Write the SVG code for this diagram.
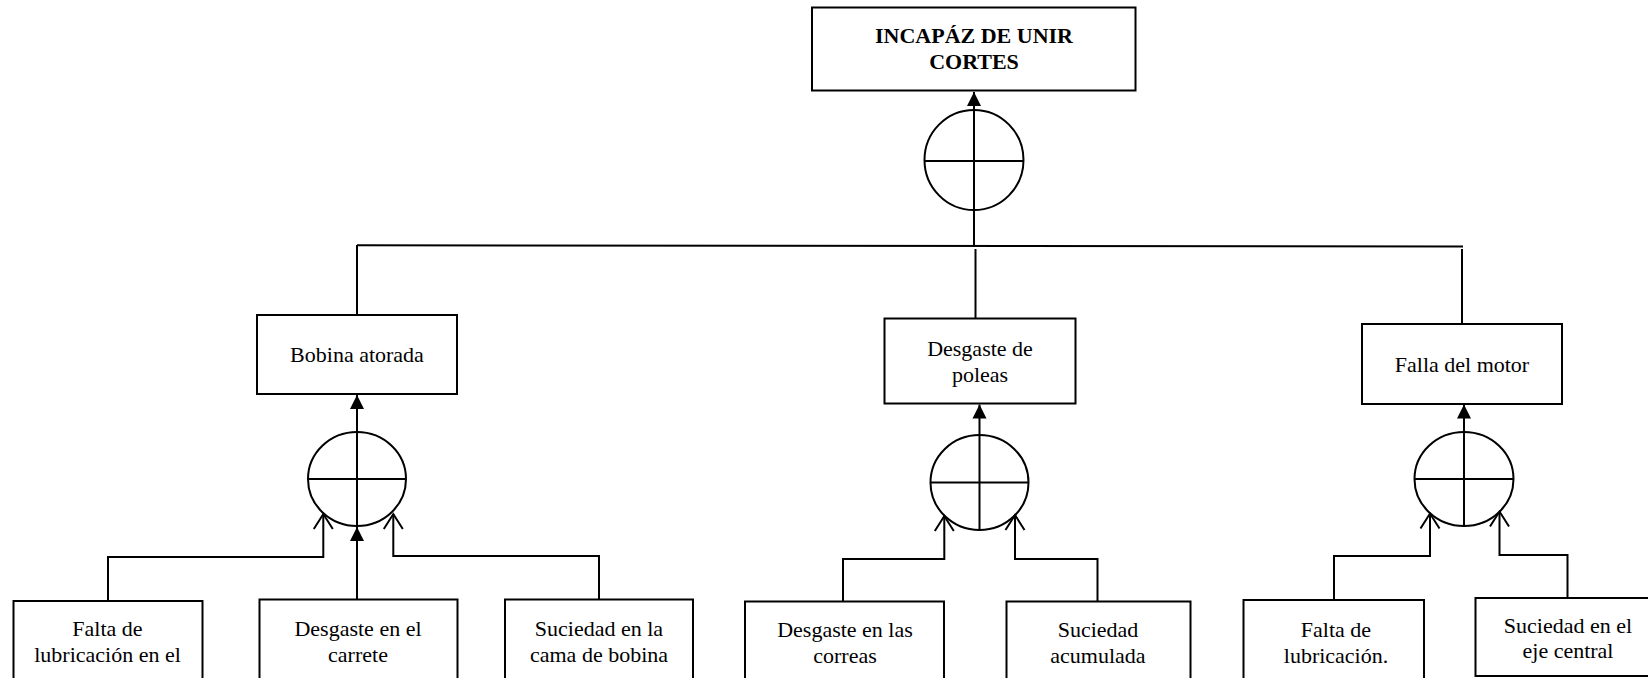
<svg xmlns="http://www.w3.org/2000/svg" width="1648" height="678" viewBox="0 0 1648 678">
<style>
.box{fill:#fff;stroke:#000;stroke-width:2}
.gate{fill:none;stroke:#000;stroke-width:2}
.con{fill:none;stroke:#000;stroke-width:2}
.t{font-family:"Liberation Serif","Times New Roman",serif;font-size:22px;text-anchor:middle;fill:#000}
.tb{font-family:"Liberation Serif","Times New Roman",serif;font-size:22px;font-weight:bold;text-anchor:middle;fill:#000}
</style>
<defs>
<marker id="fill" markerUnits="userSpaceOnUse" markerWidth="16" markerHeight="16" refX="14" refY="7" orient="auto" overflow="visible">
<path d="M0,0 L14,7 L0,14 z" fill="#000"/>
</marker>
<marker id="open" markerUnits="userSpaceOnUse" markerWidth="20" markerHeight="22" refX="15" refY="9.5" orient="auto" overflow="visible">
<path d="M0,0 L15,9.5 L0,19" fill="none" stroke="#000" stroke-width="2"/>
</marker>
</defs>
<rect width="1648" height="678" fill="#fff"/>

<g id="connectors">
<path class="con" d="M974,247 V92" marker-end="url(#fill)"/>
<path class="con" d="M357,245.3 L1463,246.5"/>
<path class="con" d="M357,245 V315"/>
<path class="con" d="M975.5,249 V318"/>
<path class="con" d="M1462,249 V324"/>
<path class="con" d="M357,432 V395" marker-end="url(#fill)"/>
<path class="con" d="M108,601 V557 H323.3 V514" marker-end="url(#open)"/>
<path class="con" d="M357,599.5 V527" marker-end="url(#fill)"/>
<path class="con" d="M599,599.5 V556 H393.3 V514" marker-end="url(#open)"/>
<path class="con" d="M979.5,435 V404.5" marker-end="url(#fill)"/>
<path class="con" d="M843,601.5 V559 H944.3 V516" marker-end="url(#open)"/>
<path class="con" d="M1097.5,601.5 V559 H1015 V515" marker-end="url(#open)"/>
<path class="con" d="M1464,432 V404.5" marker-end="url(#fill)"/>
<path class="con" d="M1334,600 V556 H1430 V513.5" marker-end="url(#open)"/>
<path class="con" d="M1567.5,598 V555 H1499.5 V511.5" marker-end="url(#open)"/>
</g>

<g id="gate-top">
<ellipse class="gate" cx="974" cy="160" rx="49.5" ry="50"/>
<line class="gate" x1="924.5" y1="161" x2="1023.5" y2="161"/>
</g>
<g id="gate-bobina">
<ellipse class="gate" cx="357" cy="479" rx="49" ry="47"/>
<line class="gate" x1="308" y1="479" x2="406" y2="479"/>
<line class="gate" x1="357" y1="432" x2="357" y2="526"/>
</g>
<g id="gate-poleas">
<ellipse class="gate" cx="979.5" cy="482.5" rx="49" ry="47.5"/>
<line class="gate" x1="930.5" y1="482.5" x2="1028.5" y2="482.5"/>
<line class="gate" x1="979.5" y1="435" x2="979.5" y2="530"/>
</g>
<g id="gate-motor">
<ellipse class="gate" cx="1464" cy="479" rx="49.5" ry="47"/>
<line class="gate" x1="1414.5" y1="479" x2="1513.5" y2="479"/>
<line class="gate" x1="1464" y1="432" x2="1464" y2="526"/>
</g>

<g id="top">
<rect class="box" x="812" y="7.5" width="323.5" height="83"/>
<text class="tb" x="974" y="43">INCAPÁZ DE UNIR</text>
<text class="tb" x="974" y="68.5">CORTES</text>
</g>
<g id="bobina">
<rect class="box" x="257" y="315" width="200" height="79"/>
<text class="t" x="357" y="362">Bobina atorada</text>
</g>
<g id="poleas">
<rect class="box" x="884.5" y="318.5" width="191" height="85"/>
<text class="t" x="980" y="356">Desgaste de</text>
<text class="t" x="980" y="381.5">poleas</text>
</g>
<g id="motor">
<rect class="box" x="1362" y="324" width="200" height="80"/>
<text class="t" x="1462" y="371.5">Falla del motor</text>
</g>
<g id="falta-lub-el">
<rect class="box" x="13.5" y="601" width="189" height="90"/>
<text class="t" x="107.5" y="636">Falta de</text>
<text class="t" x="107.5" y="662">lubricación en el</text>
</g>
<g id="carrete">
<rect class="box" x="259.5" y="599.5" width="198" height="90"/>
<text class="t" x="358" y="636">Desgaste en el</text>
<text class="t" x="358" y="662">carrete</text>
</g>
<g id="cama">
<rect class="box" x="505" y="599.5" width="188" height="90"/>
<text class="t" x="599" y="636">Suciedad en la</text>
<text class="t" x="599" y="662">cama de bobina</text>
</g>
<g id="correas">
<rect class="box" x="745" y="601.5" width="199" height="90"/>
<text class="t" x="845" y="637">Desgaste en las</text>
<text class="t" x="845" y="663">correas</text>
</g>
<g id="acumulada">
<rect class="box" x="1006.5" y="601.5" width="184" height="90"/>
<text class="t" x="1098" y="637">Suciedad</text>
<text class="t" x="1098" y="663">acumulada</text>
</g>
<g id="falta-lub">
<rect class="box" x="1243.5" y="600" width="180.5" height="90"/>
<text class="t" x="1336" y="636.5">Falta de</text>
<text class="t" x="1336" y="662.5">lubricación.</text>
</g>
<g id="eje">
<rect class="box" x="1475.5" y="598" width="200" height="78"/>
<text class="t" x="1568" y="632.5">Suciedad en el</text>
<text class="t" x="1568" y="657.5">eje central</text>
</g>
</svg>
